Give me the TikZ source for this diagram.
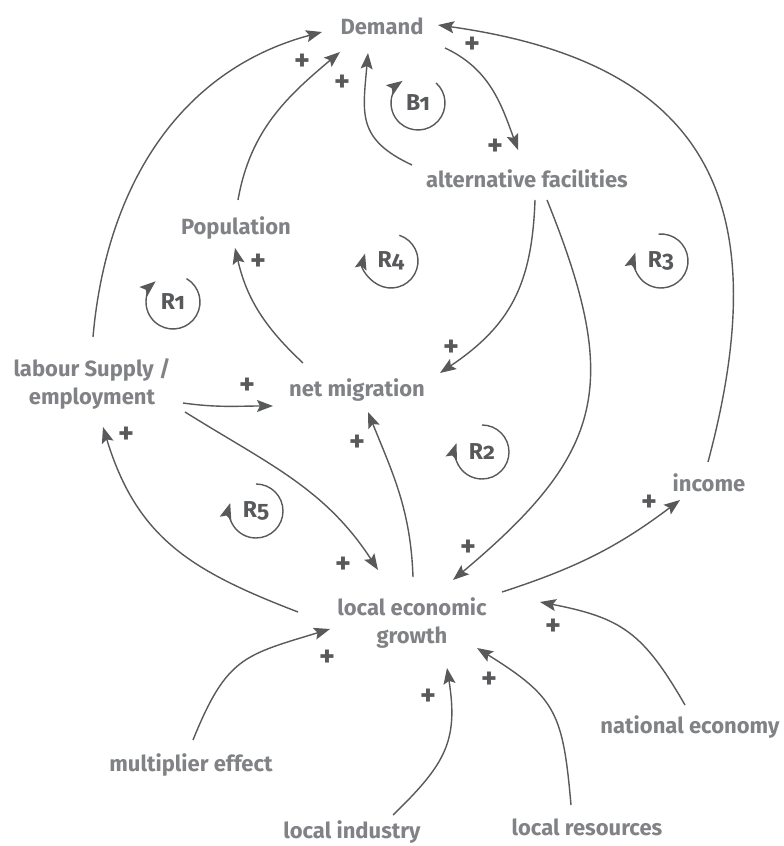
\documentclass[tikz,border=0pt]{standalone}
\usepackage{fontspec}
\setmainfont{Fira Sans}
\newfontfamily\loopfont{Fira Sans}[Numbers=OldStyle]
\usetikzlibrary{arrows.meta}
\definecolor{labelgray}{RGB}{128,130,133}
\definecolor{linegray}{RGB}{88,89,91}
\tikzstyle{var} = [text=labelgray, font=\fontsize{22}{28}\selectfont\bfseries,
align=center, inner sep=0pt]
\tikzstyle{sign} = [text=linegray, font=\fontsize{30}{30}\selectfont\bfseries, inner sep=0pt]
\tikzstyle{looplabel} = [text=linegray, font=\loopfont\fontsize{23}{23}\selectfont\bfseries, inner sep=0pt]
\tikzstyle{link} = [draw=linegray, line width=1.4pt, ->]
\tikzstyle{looparc} = [link]
\tikzset{>={Stealth[length=16pt,width=12pt,inset=3pt]}}
\newcommand{\fbloop}[5]{ %
  % loop marker #1 at #2, label #3, arc from angle #4 round to #5
  \node[looplabel] (#1) at (#2) {#3};
  \draw[looparc] (#1.center) ++(#4:27) arc[start angle=#4, end angle=#5, radius=27];
}
\begin{document}
\begin{tikzpicture}[x=1pt,y=1pt]
\useasboundingbox (0,0) rectangle (784,846);

% variables
\node[var] (dem) at (382,820) {Demand};
\node[var] (alt) at (527,667) {alternative facilities};
\node[var] (pop) at (236,618) {Population};
\node[var] (mig) at (357,456) {net migration};
\node[var] (lab) at (92,462) {labour Supply /\\employment};
\node[var] (leg) at (412,223) {local economic\\growth};
\node[var] (inc) at (709,363) {income};
\node[var] (nat) at (690,119) {national economy};
\node[var] (mul) at (191,81) {multiplier effect};
\node[var] (ind) at (352,14) {local industry};
\node[var] (res) at (587,19) {local resources};

% loops
\fbloop{b1}{418,743}{B1}{48}{-235}
\fbloop{r4}{391,585}{R4}{72}{-196}
\fbloop{r1}{173,544}{R1}{60}{-230}
\fbloop{r3}{661,585}{R3}{95}{-198}
\fbloop{r2}{482,394}{R2}{90}{-199}
\fbloop{r5}{256,335}{R5}{90}{-197}

% links
\draw[link] ([shift={(1,47)}]lab.center) to[out=85,in=195] ([shift={(-60,-6)}]dem.center);
\draw[link] ([shift={(2,28)}]pop.center) to[out=80,in=220] ([shift={(-42,-26)}]dem.center);
\draw[link] ([shift={(-115,14)}]alt.center) to[out=155,in=265,looseness=1.3] ([shift={(-14,-27)}]dem.center);
\draw[link] ([shift={(63,-22)}]dem.center) to[out=-25,in=110] ([shift={(-9,29)}]alt.center);
\draw[link] ([shift={(-1,21)}]inc.center) to[out=75,in=-8,looseness=1.35] ([shift={(56,1)}]dem.center);
\draw[link] ([shift={(8,-21)}]alt.center) to[out=-92,in=34,looseness=1.1] ([shift={(83,17)}]mig.center);
\draw[link] ([shift={(20,-21)}]alt.center) to[out=-68,in=40,looseness=1.3] ([shift={(41,43)}]leg.center);
\draw[link] ([shift={(-54,27)}]mig.center) to[out=137,in=-77] ([shift={(-1,-20)}]pop.center);
\draw[link] ([shift={(91,-19)}]lab.center) to[out=-8,in=180] ([shift={(-84,-16)}]mig.center);
\draw[link] ([shift={(93,-28)}]lab.center) to[out=-32,in=123] ([shift={(-34,53)}]leg.center);
\draw[link] ([shift={(-114,11)}]leg.center) to[out=159,in=-73,looseness=1.1] ([shift={(11,-43)}]lab.center);
\draw[link] ([shift={(1,46)}]leg.center) to[out=92,in=-68] ([shift={(11,-22)}]mig.center);
\draw[link] ([shift={(90,31)}]leg.center) to[out=18,in=217] ([shift={(-29,-17)}]inc.center);
\draw[link] ([shift={(-5,22)}]nat.center) to[out=120,in=-11,looseness=1.2] ([shift={(128,21)}]leg.center);
\draw[link] ([shift={(2,25)}]mul.center) to[out=68,in=197,looseness=1.3] ([shift={(-82,-6)}]leg.center);
\draw[link] ([shift={(41,17)}]ind.center) to[out=44,in=-81,looseness=1.2] ([shift={(35,-45)}]leg.center);
\draw[link] ([shift={(-16,22)}]res.center) to[out=95,in=-32,looseness=1.3] ([shift={(65,-25)}]leg.center);

% polarity signs
\foreach \x/\y [count=\i] in {302/784, 342/763, 472/801, 495/699, 451/498, 258/584,
  247/460, 126/411, 357/403, 343/281, 468/298, 649/343, 553/219, 327/188, 428/149, 489/166}
  \node[sign] (plus\i) at (\x,\y) {+};
\end{tikzpicture}
\end{document}
